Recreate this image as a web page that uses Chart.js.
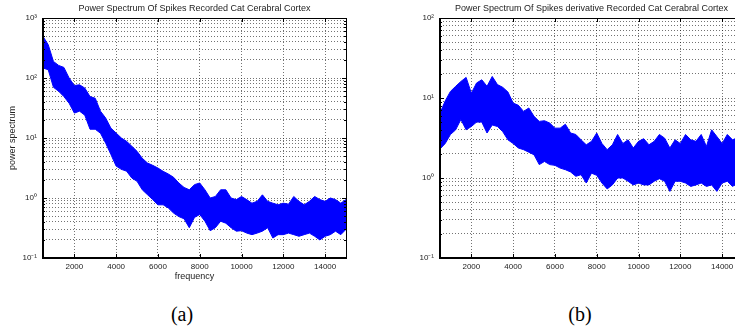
<!DOCTYPE html>
<html>
<head>
<meta charset="utf-8">
<script src="https://cdn.jsdelivr.net/npm/chart.js@4.4.1/dist/chart.umd.min.js"></script>
<style>
  html, body { margin: 0; padding: 0; background: #fff; }
  body { width: 735px; height: 333px; overflow: hidden; position: relative; }
  canvas { position: absolute; top: 0; }
  #chartA { left: 0; }
  #chartB { left: 397px; }
  .cap { position: absolute; width: 60px; text-align: center; top: 302px; line-height: 24px;
         font-family: "Liberation Serif", serif; font-size: 20px; color: #000; }
</style>
</head>
<body>
<canvas id="chartA" width="352" height="292"></canvas>
<canvas id="chartB" width="352" height="292"></canvas>
<div class="cap" style="left:152px">(a)</div>
<div class="cap" style="left:550px">(b)</div>
<script>
"use strict";

// frequency samples (Hz)
const freqs = [500, 750, 1000, 1250, 1500, 1750, 2000, 2250, 2500, 2750, 3000, 3250, 3500, 3750,
  4000, 4250, 4500, 4750, 5000, 5250, 5500, 5750, 6000, 6250, 6500, 6750, 7000, 7250, 7500, 7750,
  8000, 8250, 8500, 8750, 9000, 9250, 9500, 9750, 10000, 10250, 10500, 10750, 11000, 11250, 11500,
  11750, 12000, 12250, 12500, 12750, 13000, 13250, 13500, 13750, 14000, 14250, 14500, 14750, 15000];

// (a) spikes: upper / lower edge of the noisy trace
const upperA = [494, 359, 189, 162, 150, 100, 75, 77, 68, 49, 46, 28, 21.5, 14.6,
  12.1, 10, 8.8, 7.3, 6.0, 4.6, 3.83, 3.5, 3.16, 2.78, 2.51, 2.21, 1.78, 1.5, 1.37, 1.67,
  1.78, 1.37, 1.0, 1.06, 1.37, 1.37, 1.0, 0.94, 1.06, 0.94, 0.82, 0.88, 1.13, 0.88, 0.82,
  0.77, 0.82, 0.79, 1.06, 0.88, 0.77, 0.88, 1.06, 0.94, 0.88, 1.0, 0.94, 0.82, 0.94];
const lowerA = [147, 137, 70, 60, 49, 38, 26, 28, 24, 14, 14, 12, 8.2, 5.3,
  3.4, 3.0, 2.8, 2.15, 1.9, 1.37, 1.135, 0.94, 0.77, 0.77, 0.68, 0.56, 0.49, 0.45, 0.32, 0.475,
  0.53, 0.41, 0.285, 0.32, 0.41, 0.38, 0.32, 0.28, 0.285, 0.26, 0.245, 0.26, 0.28, 0.32, 0.215,
  0.245, 0.245, 0.26, 0.245, 0.23, 0.245, 0.26, 0.23, 0.2, 0.23, 0.245, 0.28, 0.245, 0.3];

// (b) spikes derivative: upper / lower edge
const upperB = [6.5, 9.2, 12.1, 14.0, 16.1, 18.1, 11.5, 15.4, 16.9, 14.0, 18.6, 14.7, 13.6, 11.9,
  8.65, 8.1, 6.8, 7.5, 5.9, 5.1, 5.2, 4.86, 4.2, 4.2, 4.7, 3.65, 3.5, 3.0, 2.6, 2.87,
  3.65, 2.7, 2.26, 2.6, 3.5, 2.7, 3.0, 2.37, 2.87, 3.1, 2.6, 2.87, 3.5, 3.15, 2.37,
  3.0, 2.7, 3.5, 3.0, 2.87, 3.5, 2.48, 4.0, 3.3, 2.7, 3.5, 3.0, 3.2, 3.0];
const lowerB = [2.3, 2.7, 3.5, 4.0, 5.4, 4.0, 4.4, 5.0, 5.0, 3.65, 4.6, 4.4, 3.8, 3.0,
  2.7, 2.37, 2.26, 2.1, 1.95, 1.47, 1.61, 1.47, 1.44, 1.33, 1.27, 1.19, 1.05, 1.1, 0.865, 1.15,
  1.08, 0.865, 0.73, 0.82, 1.0, 1.0, 0.91, 0.82, 0.865, 0.82, 0.82, 0.91, 0.98, 0.91, 0.68,
  0.91, 0.91, 0.865, 0.785, 0.82, 0.865, 0.785, 0.82, 0.68, 0.865, 0.91, 0.785, 0.865, 0.82];

// axis ticks
const xTicks = [2000, 4000, 6000, 8000, 10000, 12000, 14000];
const yTicksA = [0.1, 1, 10, 100, 1000];
const yLabelsA = ['10\u207B\u00B9', '10\u2070', '10\u00B9', '10\u00B2', '10\u00B3'];
const yTicksB = [0.1, 1, 10, 100];
const yLabelsB = ['10\u207B\u00B9', '10\u2070', '10\u00B9', '10\u00B2'];

const titleA = 'Power Spectrum Of Spikes Recorded Cat Cerabral Cortex';
const titleB = 'Power Spectrum Of Spikes derivative Recorded Cat Cerabral Cortex';

Chart.defaults.font.family = '"Liberation Sans", Arial, sans-serif';
Chart.defaults.color = '#222';

// every 1..9 x 10^d between min and max, for the dotted minor grid
function logGrid(min, max) {
  var out = [];
  for (var d = Math.round(Math.log10(min)); d < Math.round(Math.log10(max)); d++) {
    for (var m = 1; m < 10; m++) out.push(m * Math.pow(10, d));
  }
  out.push(max);
  return out;
}

// title centred over the plot box (matlab puts it there, not over the canvas)
const axesTitle = {
  id: 'axesTitle',
  afterDraw: function (chart, args, opts) {
    var ctx = chart.ctx, a = chart.chartArea;
    ctx.save();
    ctx.font = '9px "Liberation Sans", Arial, sans-serif';
    ctx.fillStyle = '#222';
    ctx.textAlign = 'center';
    ctx.textBaseline = 'middle';
    ctx.fillText(opts.text, (a.left + a.right) / 2, 8.6);
    ctx.restore();
  }
};

// matlab style box with inward tick marks
const boxPlugin = {
  id: 'box',
  afterDatasetsDraw: function (chart) {
    var ctx = chart.ctx, a = chart.chartArea, x = chart.scales.x, y = chart.scales.y;
    ctx.save();
    ctx.strokeStyle = '#000';
    ctx.lineWidth = 1;
    ctx.beginPath();
    y.ticks.forEach(function (t) {
      var py = Math.round(y.getPixelForValue(t.value)) + 0.5;
      var len = t.label ? 4 : 2;
      ctx.moveTo(a.left, py); ctx.lineTo(a.left + len, py);
      ctx.moveTo(a.right, py); ctx.lineTo(a.right - len, py);
    });
    x.ticks.forEach(function (t) {
      var px = Math.round(x.getPixelForValue(t.value)) + 0.5;
      ctx.moveTo(px, a.bottom); ctx.lineTo(px, a.bottom - 4);
      ctx.moveTo(px, a.top); ctx.lineTo(px, a.top + 4);
    });
    ctx.stroke();
    ctx.strokeRect(Math.round(a.left) + 0.5, Math.round(a.top) + 0.5,
      Math.round(a.width), Math.round(a.height));
    ctx.lineWidth = 2;
    ctx.beginPath();
    ctx.moveTo(Math.round(a.left), Math.round(a.top));
    ctx.lineTo(Math.round(a.left), Math.round(a.bottom));
    ctx.lineTo(Math.round(a.right), Math.round(a.bottom));
    ctx.stroke();
    ctx.restore();
  }
};

function makeSpectrum(canvasId, title, upper, lower, yMin, yMax, yTicks, yLabels, yTitle, xTitle) {
  var el = document.getElementById(canvasId);
  if (!el) return;
  var dotted = { color: 'rgba(0,0,0,0.55)', lineWidth: 1, drawTicks: false };
  new Chart(el, {
    type: 'line',
    data: {
      datasets: [{
        data: freqs.map(function (f, i) { return { x: f, y: upper[i] }; }),
        borderColor: '#0000ff',
        backgroundColor: '#0000ff',
        borderWidth: 1,
        pointRadius: 0,
        fill: '+1'
      }, {
        data: freqs.map(function (f, i) { return { x: f, y: lower[i] }; }),
        borderColor: '#0000ff',
        backgroundColor: '#0000ff',
        borderWidth: 1,
        pointRadius: 0,
        fill: false
      }]
    },
    options: {
      responsive: false,
      animation: false,
      layout: { padding: { left: 0, right: 6, top: 18, bottom: 0 } },
      scales: {
        x: {
          type: 'linear',
          min: 500,
          max: 15000,
          grid: dotted,
          border: { display: false, dash: [1, 2] },
          afterBuildTicks: function (s) { s.ticks = xTicks.map(function (v) { return { value: v }; }); },
          afterFit: function (s) { s.height = 34; },
          ticks: { autoSkip: false, maxRotation: 0, padding: 4, font: { size: 8 },
            callback: function (v) { return String(v); } },
          title: { display: !!xTitle, text: xTitle || '', color: '#222', font: { size: 9 },
            padding: { top: 0, bottom: 9.6 } }
        },
        y: {
          type: 'logarithmic',
          min: yMin,
          max: yMax,
          grid: dotted,
          border: { display: false, dash: [1, 2] },
          afterBuildTicks: function (s) { s.ticks = logGrid(yMin, yMax).map(function (v) { return { value: v }; }); },
          afterFit: function (s) { s.width = 43; },
          ticks: { autoSkip: false, padding: 6, font: { size: 8 },
            callback: function (v) {
              for (var i = 0; i < yTicks.length; i++) {
                if (Math.abs(v / yTicks[i] - 1) < 1e-6) return yLabels[i];
              }
              return '';
            } },
          title: { display: !!yTitle, text: yTitle || '', color: '#222', font: { size: 9 },
            padding: { top: 7.6, bottom: 0 } }
        }
      },
      plugins: {
        legend: { display: false },
        tooltip: { enabled: false },
        title: { display: false },
        axesTitle: { text: title }
      }
    },
    plugins: [boxPlugin, axesTitle]
  });
}

// (a) power spectrum of spikes
makeSpectrum('chartA', titleA, upperA, lowerA, 0.1, 1000, yTicksA, yLabelsA, 'power spectrum', 'frequency');

// (b) power spectrum of spikes derivative (no axis labels in the original)
makeSpectrum('chartB', titleB, upperB, lowerB, 0.1, 100, yTicksB, yLabelsB, '', '');
</script>
</body>
</html>
